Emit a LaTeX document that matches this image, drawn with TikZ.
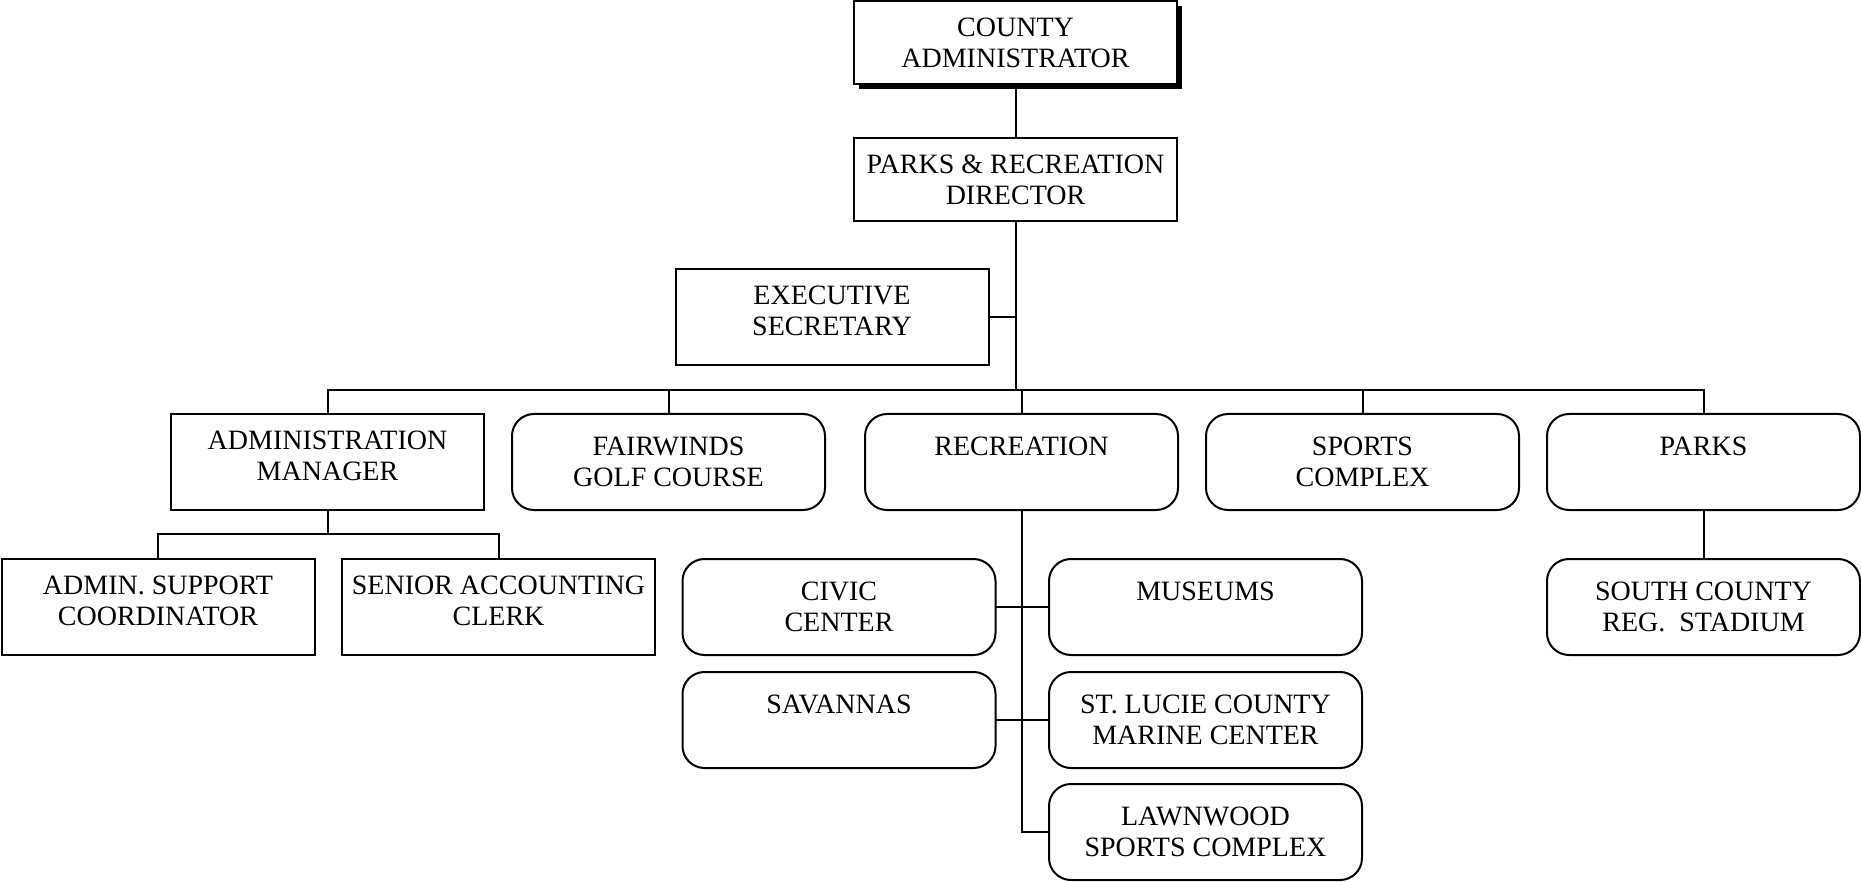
\documentclass[tikz,border=0pt]{standalone}
\usepackage{fontspec}
\setmainfont{Liberation Serif}
\usetikzlibrary{shadows}

% box contents: text hangs from the top edge of the box
\newcommand{\toptxt}[1]{\parbox[c][83pt][t]{323pt}{\centering\rule{0pt}{35.5pt}#1}}
\newcommand{\sqtxt}[1]{\parbox[c][96pt][t]{313pt}{\centering\rule{0pt}{35pt}#1}}
\newcommand{\rdtxt}[1]{\parbox[c][96pt][t]{313pt}{\centering\rule{0pt}{41pt}#1}}

\tikzset{
  unitbox/.style={draw, line width=2pt, inner sep=0pt, outer sep=0pt, fill=white,
                  font=\fontsize{28pt}{31.5pt}\selectfont},
  sqbox/.style={unitbox},
  rdbox/.style={unitbox, rounded corners=22pt},
  link/.style={line width=2pt},
}

\begin{document}
\begin{tikzpicture}[x=1pt, y=-1pt]
\useasboundingbox (0,0) rectangle (1861,882);

% top of the chart
\node[sqbox, general shadow={fill=black, shadow xshift=5pt, shadow yshift=-5pt}]
  (county) at (1015.5,42.5) {\toptxt{COUNTY\\ADMINISTRATOR}};
\node[sqbox] (dir) at (1015.5,179.5) {\toptxt{PARKS \& RECREATION\\DIRECTOR}};
\node[sqbox] (exec) at (832,317.5) {\sqtxt{EXECUTIVE\\SECRETARY}};

% divisions
\node[sqbox] (admin) at (327.5,462) {\sqtxt{ADMINISTRATION\\MANAGER}};
\node[rdbox] (fair) at (668.5,462) {\rdtxt{FAIRWINDS\\GOLF COURSE}};
\node[rdbox] (rec) at (1021.5,462) {\rdtxt{RECREATION}};
\node[rdbox] (sports) at (1362.5,462) {\rdtxt{SPORTS\\COMPLEX}};
\node[rdbox] (parks) at (1703.5,462) {\rdtxt{PARKS}};

% administration staff
\node[sqbox] (supp) at (158,607) {\sqtxt{ADMIN. SUPPORT\\COORDINATOR}};
\node[sqbox] (senior) at (498.5,607) {\sqtxt{SENIOR ACCOUNTING\\CLERK}};

% recreation facilities
\node[rdbox] (civic) at (839,607) {\rdtxt{CIVIC\\CENTER}};
\node[rdbox] (mus) at (1205.5,607) {\rdtxt{MUSEUMS}};
\node[rdbox] (sav) at (839,720) {\rdtxt{SAVANNAS}};
\node[rdbox] (stl) at (1205.5,720) {\rdtxt{ST. LUCIE COUNTY\\MARINE CENTER}};
\node[rdbox] (lawn) at (1205.5,832) {\rdtxt{LAWNWOOD\\SPORTS COMPLEX}};

% parks facilities
\node[rdbox] (south) at (1703.5,607) {\rdtxt{SOUTH COUNTY\\REG.\ \ STADIUM}};

% connectors
\coordinate (bus) at (1015.5,390);
\coordinate (sub) at (327.5,534);
\draw[link] (county.south) -- (dir.north);
\draw[link] (dir.south) -- (bus);
\draw[link] (exec.east) -- (exec.east -| bus);
\draw[link] (admin.north) -- (admin.north |- bus) -- (parks.north |- bus) -- (parks.north);
\draw[link] (fair.north) -- (fair.north |- bus);
\draw[link] (rec.north) -- (rec.north |- bus);
\draw[link] (sports.north) -- (sports.north |- bus);
\draw[link] (admin.south) -- (sub);
\draw[link] (supp.north) -- (supp.north |- sub) -- (senior.north |- sub) -- (senior.north);
\draw[link] (rec.south) |- (lawn.west);
\draw[link] (civic.east) -- (mus.west);
\draw[link] (sav.east) -- (stl.west);
\draw[link] (parks.south) -- (south.north);
\end{tikzpicture}
\end{document}
